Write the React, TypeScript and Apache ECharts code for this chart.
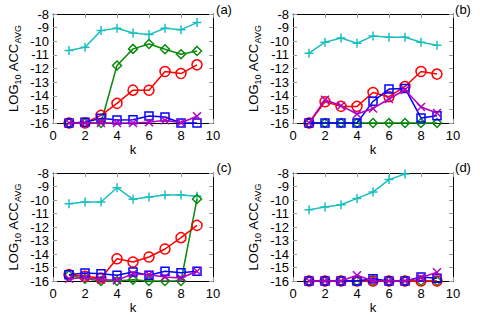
import React, { useEffect, useRef } from "react";
import * as echarts from "echarts";

const K = [1, 2, 3, 4, 5, 6, 7, 8, 9];
const PANEL_LABELS = ["(a)", "(b)", "(c)", "(d)"];

// Panel (a)
const aCyan = [-10.68, -10.44, -9.22, -9.05, -9.39, -9.51, -9.05, -9.15, -8.63];
const aGreen = [-16, -16, -16, -11.78, -10.56, -10.2, -10.59, -10.95, -10.71];
const aRed = [-16, -16, -15.44, -14.56, -13.59, -13.6, -12.22, -12.37, -11.73];
const aBlue = [-16, -15.95, -15.66, -15.78, -15.76, -15.49, -15.56, -16, -16];
const aMagenta = [-16, -16, -16, -16, -16, -15.95, -15.8, -15.98, -15.5];

// Panel (b)
const bCyan = [-10.88, -10.07, -9.76, -10.15, -9.61, -9.7, -9.7, -10.07, -10.29];
const bGreen = [-16, -16, -16, -16, -16, -16, -16, -16, -16];
const bRed = [-16, -14.44, -14.78, -14.78, -13.76, -14.07, -13.32, -12.22, -12.41];
const bBlue = [-16, -16, -16, -16, -14.41, -13.51, -13.46, -15.63, -15.46];
const bMagenta = [-16, -14.29, -14.73, -15.34, -14.93, -14.24, -13.56, -14.83, -15.27];

// Panel (c)
const cCyan = [-10.27, -10.15, -10.15, -9.09, -9.95, -9.78, -9.63, -9.63, -9.73];
const cGreen = [-15.58, -15.83, -16, -16, -15.9, -16, -16, -16, -9.93];
const cRed = [-15.53, -15.65, -15.78, -14.35, -14.59, -14.22, -13.63, -12.79, -11.88];
const cBlue = [-15.53, -15.41, -15.46, -15.58, -15.33, -15.58, -15.28, -15.38, -15.28];
const cMagenta = [-15.83, -15.75, -15.88, -15.95, -15.46, -15.53, -15.7, -15.78, -15.28];

// Panel (d)
const dCyan = [-10.72, -10.52, -10.35, -9.88, -9.41, -8.49, -8.07];
const dGreen = [-16, -16, -16, -16, -16, -16, -16, -16, -16];
const dRed = [-16, -16, -16, -16, -16, -16, -16, -16, -16];
const dBlue = [-16, -16, -16, -16, -15.83, -16, -16, -15.7, -15.8];
const dMagenta = [-16, -16, -16, -15.58, -16, -16, -16, -15.75, -15.35];

const PANELS = [
  [aCyan, aGreen, aRed, aBlue, aMagenta],
  [bCyan, bGreen, bRed, bBlue, bMagenta],
  [cCyan, cGreen, cRed, cBlue, cMagenta],
  [dCyan, dGreen, dRed, dBlue, dMagenta],
];

const COLORS = ["#1cbfbf", "#0a8a0a", "#ff0000", "#0000ff", "#b000c0"];
const PLUS = "path://M0,5L10,5M5,0L5,10";
const CROSS = "path://M0,0L10,10M10,0L0,10";
const SYMBOLS = [PLUS, "diamond", "circle", "rect", CROSS];
const SIZES = [9, 9, 10, 8, 8];

const FONT = "Liberation Sans, Arial, sans-serif";

export default function App() {
  const ref = useRef<HTMLDivElement>(null);
  useEffect(() => {
    const chart = echarts.init(ref.current!, null, { renderer: "svg" });
    const grids = [
      { left: 53, top: 14, width: 160, height: 109 },
      { left: 293, top: 14, width: 160, height: 109 },
      { left: 53, top: 173, width: 160, height: 108 },
      { left: 293, top: 173, width: 160, height: 108 },
    ];
    const axisLine = { show: true, onZero: false, lineStyle: { color: "#000", width: 1 } };
    const tick = { show: true, inside: true, length: 4, lineStyle: { color: "#999", width: 1 } };
    const labelStyle = { color: "#000", fontSize: 13, fontFamily: FONT };
    const xAxis: any[] = [];
    const yAxis: any[] = [];
    const series: any[] = [];
    grids.forEach((_, i) => {
      xAxis.push({
        type: "value", gridIndex: i, min: 0, max: 10, interval: 2, position: "bottom",
        axisLine, axisTick: tick, splitLine: { show: false },
        axisLabel: { ...labelStyle, margin: 6 },
        name: "k", nameLocation: "middle", nameGap: 20,
        nameTextStyle: { ...labelStyle },
      });
      xAxis.push({
        type: "value", gridIndex: i, min: 0, max: 10, interval: 2, position: "top",
        axisLine, axisTick: tick, splitLine: { show: false }, axisLabel: { show: false },
      });
      yAxis.push({
        type: "value", gridIndex: i, min: -16, max: -8, interval: 1, position: "left",
        axisLine, axisTick: tick, splitLine: { show: false },
        axisLabel: { ...labelStyle, margin: 4 },
        name: "LOG{s|10} ACC{s|AVG}", nameLocation: "middle", nameGap: 31, nameRotate: 90,
        nameTextStyle: {
          ...labelStyle, lineHeight: 18,
          rich: { s: { fontSize: 9, fontFamily: FONT, color: "#000", verticalAlign: "bottom", lineHeight: 9 } },
        },
      });
      yAxis.push({
        type: "value", gridIndex: i, min: -16, max: -8, interval: 1, position: "right",
        axisLine, axisTick: tick, splitLine: { show: false }, axisLabel: { show: false },
      });
      PANELS[i].forEach((vals, s) => {
        series.push({
          type: "line",
          xAxisIndex: 2 * i,
          yAxisIndex: 2 * i,
          data: vals.map((v, j) => [K[j], v]),
          symbol: SYMBOLS[s],
          symbolSize: SIZES[s],
          showAllSymbol: true,
          clip: false,
          lineStyle: { color: COLORS[s], width: 1.5 },
          itemStyle: { color: "none", borderColor: COLORS[s], borderWidth: 1.5 },
          emphasis: { disabled: true },
          z: 2 + s,
        });
      });
    });
    const labelPos = [
      [224, 9],
      [463, 9],
      [224, 167],
      [463, 167],
    ];
    chart.setOption({
      animation: false,
      backgroundColor: "#fff",
      grid: grids,
      xAxis,
      yAxis,
      series,
      graphic: PANEL_LABELS.map((t, i) => ({
        type: "text",
        x: labelPos[i][0],
        y: labelPos[i][1],
        style: { text: t, fontSize: 13, fontFamily: FONT, fill: "#000", align: "center", verticalAlign: "middle" },
      })),
    });
    return () => chart.dispose();
  }, []);
  return (
    <div
      ref={ref}
      style={{ position: "fixed", left: 0, top: 0, width: 480, height: 320, background: "#fff" }}
    />
  );
}
